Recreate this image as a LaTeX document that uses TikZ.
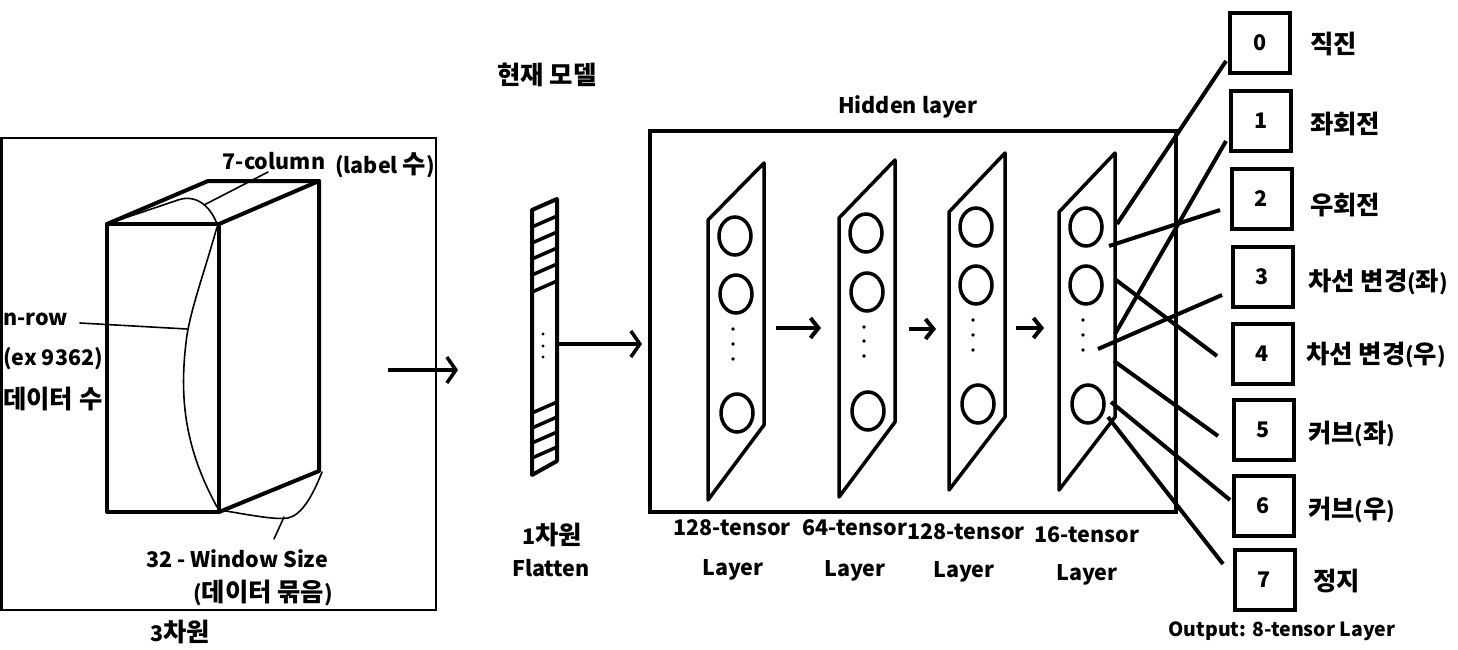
\documentclass[tikz,border=0pt]{standalone}
\usepackage{fontspec}
\setmainfont{Noto Sans CJK KR}
\newfontfamily\kr{Noto Sans CJK KR}[Scale=1.18]
\usetikzlibrary{arrows.meta,calc}
\begin{document}
\begin{tikzpicture}[x=1pt,y=-1pt,
  lbl/.style={inner sep=0pt, font=\fontsize{21.5}{23}\selectfont\bfseries},
  small/.style={inner sep=0pt, font=\fontsize{19.5}{21}\selectfont\bfseries},
  thickline/.style={line width=4pt, line cap=round, line join=round},
  thinline/.style={line width=1.6pt, line cap=round},
  layerline/.style={line width=3.5pt, line join=round},
  node circle/.style={line width=3.5pt},
  bigarrow/.style={line width=3.5pt, -{Straight Barb[length=9pt,width=26pt]}},
  midarrow/.style={line width=4pt, -{Straight Barb[length=8pt,width=20pt]}},
  outbox/.style={draw, line width=4pt, minimum width=60pt, minimum height=60pt, inner sep=0pt, font=\fontsize{21.5}{23}\selectfont\bfseries},
  conn/.style={line width=4pt}
]
\useasboundingbox (0,0) rectangle (1458,650);
\fill[white] (0,0) rectangle (1458,650);

% ---------- left 3D block ----------
\draw[line width=2.5pt] (1.5,138) rectangle (436,610);
\draw[thickline] (107,224) rectangle (219,512);
\draw[thickline] (107,224) -- (208,181) -- (319,181) -- (319,471) -- (219,512);
\draw[thickline] (219,224) -- (319,181);
% thin braces
\draw[thinline] (110,223) -- (178,200) .. controls (195,194) and (210,205) .. (217,224);
\draw[thinline] (204,205) -- (268,172);
\draw[thinline] (217,227) .. controls (205,270) and (192,305) .. (187,335)
  .. controls (178,400) and (186,450) .. (217,507);
\draw[thinline] (80,323) -- (187,329);
\draw[thinline] (220,510) .. controls (250,515) and (275,520) .. (288,518)
  .. controls (302,515) and (313,495) .. (322,472);
\draw[thinline] (284,517) -- (274,539);

\node[lbl] (col) at (274,161) {7-column};
\node[lbl] (lab) at (385,165) {(label {\kr 수})};
\node[lbl, anchor=west] (nrow) at (3,319) {n-row};
\node[lbl, anchor=west] (ex) at (3,359) {(ex 9362)};
\node[lbl, anchor=west] (dsu) at (3,399) {\kr 데이터 수};
\node[lbl] (win) at (237,559) {32 - Window Size};
\node[lbl] (bun) at (263,593) {({\kr 데이터 묶음})};
\node[lbl] (d3) at (180,632) {3{\kr 차원}};

\coordinate (a1s) at (388,370);
\coordinate (a1e) at (458,370);
\draw[bigarrow] (a1s) -- (a1e);

% ---------- flatten ----------
\node[lbl] (title) at (547,75) {\kr 현재 모델};
\draw[line width=4pt, line join=round] (532,210) -- (557,199) -- (557,461) -- (532,475) -- cycle;
\foreach \yy in {227,243,259,275,292,413,428,443,458}
  \draw[line width=3.5pt] (532,\yy) -- (557,\yy-11);
\foreach \yy in {334,346,357}
  \fill (543,\yy) circle (1.6pt);
\node[lbl] (d1) at (552,535) {1{\kr 차원}};
\node[lbl] (fl) at (551,568) {Flatten};
\coordinate (a2s) at (559,344);
\coordinate (a2e) at (642,344);
\draw[bigarrow] (a2s) -- (a2e);

% ---------- hidden layer ----------
\node[lbl] (hid) at (908,107) {Hidden layer};
\draw[line width=4pt] (650,131) rectangle (1176,512);

\draw[layerline] (708,220) -- (764,163) -- (764,425) -- (708,500) -- cycle;
\draw[layerline] (839,218) -- (895,160) -- (895,422) -- (839,497) -- cycle;
\draw[layerline] (949,212) -- (1005,153) -- (1005,417) -- (949,490) -- cycle;
\draw[layerline] (1059,212) -- (1115,153) -- (1115,417) -- (1059,490) -- cycle;

\foreach \cx/\cy in {735/236,736/294,737/413, 866/233,867/292,868/411, 976/227,976/285,978/404, 1086/227,1086/285,1088/404}
  \draw[node circle] (\cx,\cy) ellipse [x radius=16pt, y radius=19pt];
\foreach \cx/\cy in {733/329,733/344,733/359, 864/327,864/341,864/356, 973/320,973/335,973/350, 1083/320,1083/335,1083/350}
  \fill (\cx,\cy) circle (1.8pt);

\coordinate (m1s) at (776,328); \coordinate (m1e) at (821,328);
\coordinate (m2s) at (909,329); \coordinate (m2e) at (936,329);
\coordinate (m3s) at (1016,328); \coordinate (m3e) at (1044,328);
\draw[midarrow] (m1s) -- (m1e);
\draw[midarrow] (m2s) -- (m2e);
\draw[midarrow] (m3s) -- (m3e);

\node[lbl] (t1) at (732,528) {128-tensor};
\node[lbl] (l1) at (733,570) {Layer};
\node[lbl] (t2) at (855,528) {64-tensor};
\node[lbl] (l2) at (855,571) {Layer};
\node[lbl] (t3) at (966,532) {128-tensor};
\node[lbl] (l3) at (964,572) {Layer};
\node[lbl] (t4) at (1087,535) {16-tensor};
\node[lbl] (l4) at (1087,575) {Layer};

% ---------- outputs ----------
\node[outbox] (b0) at (1260,43) {0};
\node[outbox] (b1) at (1261,121) {1};
\node[outbox] (b2) at (1261.5,199) {2};
\node[outbox] (b3) at (1262.5,277) {3};
\node[outbox] (b4) at (1262.5,354) {4};
\node[outbox] (b5) at (1263.5,430) {5};
\node[outbox] (b6) at (1263.5,506) {6};
\node[outbox] (b7) at (1264.5,580) {7};

\node[lbl, anchor=west] (o0) at (1310,44) {\kr 직진};
\node[lbl, anchor=west] (o1) at (1310,124) {\kr 좌회전};
\node[lbl, anchor=west] (o2) at (1310,205) {\kr 우회전};
\node[lbl, anchor=west] (o3) at (1308,282) {{\kr 차선 변경}({\kr 좌})};
\node[lbl, anchor=west] (o4) at (1306,355) {{\kr 차선 변경}({\kr 우})};
\node[lbl, anchor=west] (o5) at (1308,434) {{\kr 커브}({\kr 좌})};
\node[lbl, anchor=west] (o6) at (1308,510) {{\kr 커브}({\kr 우})};
\node[lbl, anchor=west] (o7) at (1313,581) {\kr 정지};
\node[small] (outcap) at (1282,631) {Output: 8-tensor Layer};

% connection start points on last hidden layer
\coordinate (s0) at (1117,224);
\coordinate (s1) at (1115,334);
\coordinate (s2) at (1109,246);
\coordinate (s3) at (1098,349);
\coordinate (s4) at (1116,280);
\coordinate (s5) at (1114,361);
\coordinate (s6) at (1111,402);
\coordinate (s7) at (1108,417);
% end points near the boxes
\coordinate (e0) at (1226,61);
\coordinate (e1) at (1226,141);
\coordinate (e2) at (1220,210);
\coordinate (e3) at (1222,295);
\coordinate (e4) at (1217,356);
\coordinate (e5) at (1218,436);
\coordinate (e6) at (1230,500);
\coordinate (e7) at (1223,564);
\foreach \i in {0,...,7}
  \draw[conn] (s\i) -- (e\i);
\end{tikzpicture}
\end{document}
